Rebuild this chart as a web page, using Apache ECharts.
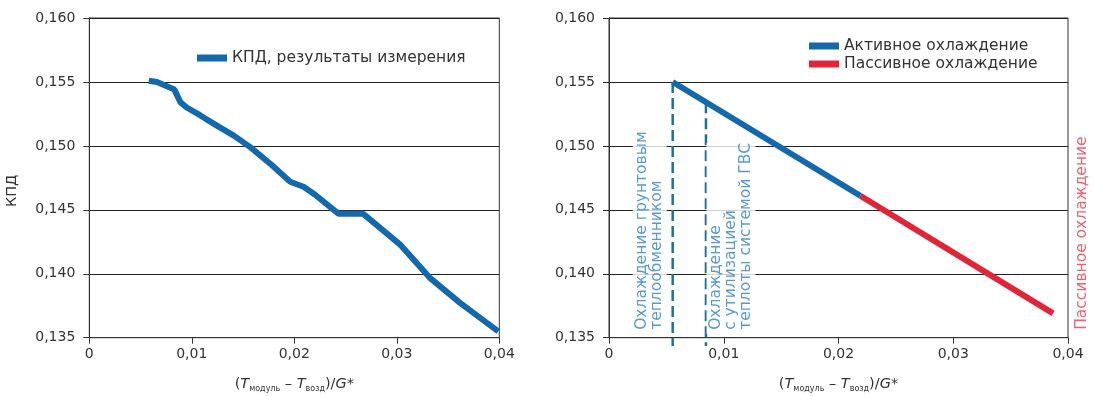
<!DOCTYPE html>
<html><head><meta charset="utf-8">
<script src="https://cdn.jsdelivr.net/npm/echarts@6/dist/echarts.min.js"></script>
<style>html,body{margin:0;padding:0;background:#fff}#c{width:1094px;height:396px}</style>
</head><body><div id="c"></div>
<script>
// ---- data ----
const leftX = [0.0058, 0.0066, 0.0083, 0.0089, 0.0095, 0.0108, 0.0124, 0.0141, 0.0157, 0.0178, 0.0196, 0.0209, 0.0220, 0.0243, 0.0267, 0.0303, 0.0332, 0.0362, 0.0399];
const leftY = [0.1551, 0.1550, 0.1544, 0.1534, 0.1530, 0.1524, 0.1516, 0.1508, 0.1499, 0.1485, 0.1472, 0.1468, 0.1462, 0.1447, 0.1447, 0.1423, 0.1397, 0.1377, 0.1355];
const activeX = [0.00555, 0.0219];
const activeY = [0.1550, 0.1461];
const passiveX = [0.0219, 0.0387];
const passiveY = [0.1461, 0.1369];
const dash1X = [0.00555, 0.00555];
const dash1Y = [0.1550, 0.13435];
const dash2X = [0.00845, 0.00845];
const dash2Y = [0.15342, 0.13435];
const xTickLabels = ['0', '0,01', '0,02', '0,03', '0,04'];
const yTickLabels = ['0,135', '0,140', '0,145', '0,150', '0,155', '0,160'];
const seriesNames = ['КПД, результаты измерения', 'Активное охлаждение', 'Пассивное охлаждение'];
const annoTexts = ['Охлаждение грунтовым\nтеплообменником', 'Охлаждение\nс утилизацией\nтеплоты системой ГВС', 'Пассивное охлаждение'];
const annoX = [0.00355, 0.01063, 0.04125];
const annoY = [0.1353, 0.1353, 0.1353];
const yAxisName = 'КПД';

// ---- chart ----
const FONT = 'DejaVu Sans';
const TXT = 15.5;
const BLUE = '#1469ad', RED = '#e0243a', DASH = '#23708c', TBLUE = '#2f7fbf', TRED = '#e23b4e';
const zip = (a, b) => a.map((v, i) => [v, b[i]]);
const xName = '{p|(}{i|T}{s|модуль}{p| – }{i|T}{s|возд}{p|)/}{i|G*}';
const xNameStyle = {
  color: '#333', fontFamily: FONT, fontSize: 14,
  rich: {
    p: {fontFamily: FONT, fontSize: 14.5, color: '#333'},
    i: {fontFamily: FONT, fontSize: 14.5, color: '#333', fontStyle: 'italic'},
    s: {fontFamily: FONT, fontSize: 8, color: '#333', padding: [9, 0, 0, 0]}
  }
};
function xAxis(gi) {
  return {
    type: 'value', gridIndex: gi, min: 0, max: 0.04, interval: 0.01,
    name: xName, nameLocation: 'middle', nameGap: 38, nameTextStyle: xNameStyle,
    axisLine: {show: true, lineStyle: {color: '#333', width: 1}},
    axisTick: {show: true, length: 6, lineStyle: {color: '#333'}},
    axisLabel: {color: '#333', fontFamily: FONT, fontSize: 14, margin: 10,
      formatter: v => xTickLabels[Math.round(v / 0.01)]},
    splitLine: {show: false}
  };
}
function yAxis(gi, withName) {
  return {
    type: 'value', gridIndex: gi, min: 0.135, max: 0.160, interval: 0.005,
    name: withName ? yAxisName : '', nameLocation: 'middle', nameGap: 70,
    nameTextStyle: {color: '#333', fontFamily: FONT, fontSize: 14.5, padding: [0, 26, 0, 0]},
    axisLine: {show: true, lineStyle: {color: '#333', width: 1}},
    axisTick: {show: true, length: 6, lineStyle: {color: '#333'}},
    axisLabel: {color: '#333', fontFamily: FONT, fontSize: 14, margin: 14,
      formatter: v => yTickLabels[Math.round((v - 0.135) / 0.005)]},
    splitLine: {show: true, lineStyle: {color: '#222', width: 1}}
  };
}
const chart = echarts.init(document.getElementById('c'), null, {renderer: 'canvas'});
const annoLabel = (color) => ({
  show: true, position: 'inside', rotate: 90, align: 'left', verticalAlign: 'middle',
  color: color, fontFamily: FONT, fontSize: TXT, lineHeight: 15,
  backgroundColor: '#fff', padding: [2, 0, 2, 4],
  formatter: p => annoTexts[p.dataIndex + (p.seriesName === 'annoR' ? 2 : 0)]
});
chart.setOption({
  animation: false,
  textStyle: {fontFamily: FONT},
  grid: [
    {left: 89.3, right: 594.7, top: 18, bottom: 58.3, outerBoundsMode: 'none', containLabel: false,
      show: true, borderColor: '#333', borderWidth: 1},
    {left: 609, right: 26, top: 18, bottom: 58.3, outerBoundsMode: 'none', containLabel: false,
      show: true, borderColor: '#333', borderWidth: 1}
  ],
  xAxis: [xAxis(0), xAxis(1)],
  yAxis: [yAxis(0, true), yAxis(1, false)],
  legend: [
    {data: [seriesNames[0]], left: 192, top: 45, icon: 'rect', itemWidth: 30, itemHeight: 7, itemGap: 5,
      textStyle: {color: '#333', fontFamily: FONT, fontSize: TXT}},
    {data: [seriesNames[1], seriesNames[2]], orient: 'vertical', left: 804, top: 33, icon: 'rect',
      itemWidth: 30, itemHeight: 7, itemGap: 2,
      textStyle: {color: '#333', fontFamily: FONT, fontSize: TXT}}
  ],
  series: [
    {type: 'line', name: seriesNames[0], xAxisIndex: 0, yAxisIndex: 0, data: zip(leftX, leftY),
      showSymbol: false, symbol: 'none', color: BLUE, lineStyle: {color: BLUE, width: 6}},
    {type: 'line', name: 'dash1', xAxisIndex: 1, yAxisIndex: 1, data: zip(dash1X, dash1Y), clip: false,
      symbol: 'none', lineStyle: {color: DASH, width: 2.5, type: [11, 5]}, z: 2},
    {type: 'line', name: 'dash2', xAxisIndex: 1, yAxisIndex: 1, data: zip(dash2X, dash2Y), clip: false,
      symbol: 'none', lineStyle: {color: DASH, width: 2.5, type: [11, 5]}, z: 2},
    {type: 'line', name: seriesNames[1], xAxisIndex: 1, yAxisIndex: 1, data: zip(activeX, activeY),
      symbol: 'none', color: BLUE, lineStyle: {color: BLUE, width: 6}, z: 3},
    {type: 'line', name: seriesNames[2], xAxisIndex: 1, yAxisIndex: 1, data: zip(passiveX, passiveY),
      symbol: 'none', color: RED, lineStyle: {color: RED, width: 6}, z: 3},
    {type: 'scatter', name: 'annoB', xAxisIndex: 1, yAxisIndex: 1, clip: false, symbolSize: 0.1,
      data: zip(annoX.slice(0, 2), annoY.slice(0, 2)), label: annoLabel(TBLUE), z: 4, silent: true},
    {type: 'scatter', name: 'annoR', xAxisIndex: 1, yAxisIndex: 1, clip: false, symbolSize: 0.1,
      data: zip(annoX.slice(2), annoY.slice(2)), label: Object.assign(annoLabel(TRED), {backgroundColor: 'transparent'}), z: 4, silent: true}
  ]
});
</script></body></html>
